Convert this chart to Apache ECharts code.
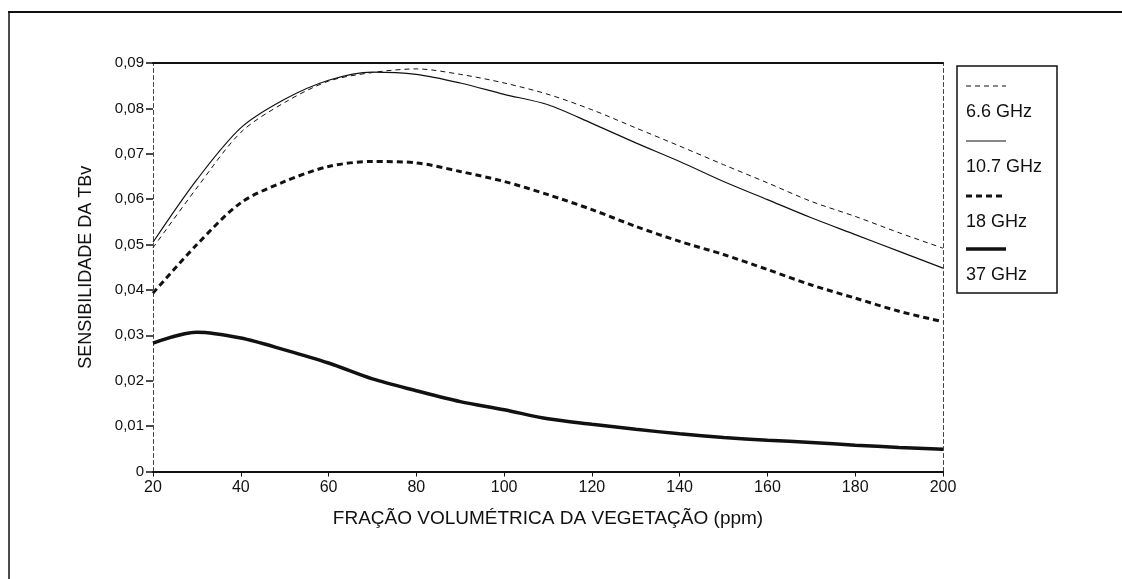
<!DOCTYPE html>
<html>
<head>
<meta charset="utf-8">
<script src="https://cdn.jsdelivr.net/npm/echarts@6/dist/echarts.min.js"></script>
<style>
html,body{margin:0;padding:0;background:#fff;}
#chart{width:1122px;height:579px;}
</style>
</head>
<body>
<div id="chart"></div>
<script>
const xValues = [20,30,40,50,60,70,80,90,100,110,120,130,140,150,160,170,180,190,200];
const s66 = [0.0493,0.0625,0.0747,0.0813,0.0860,0.0879,0.0887,0.0875,0.0856,0.0831,0.0797,0.0757,0.0717,0.0676,0.0636,0.0595,0.0562,0.0526,0.0492];
const s107 = [0.0505,0.0643,0.0757,0.0820,0.0862,0.0880,0.0875,0.0856,0.0831,0.0808,0.0767,0.0724,0.0683,0.0639,0.0599,0.0559,0.0522,0.0485,0.0448];
const s18 = [0.0393,0.0500,0.0592,0.0639,0.0672,0.0683,0.0680,0.0661,0.0639,0.0610,0.0577,0.0540,0.0507,0.0478,0.0445,0.0411,0.0382,0.0353,0.0330];
const s37 = [0.0283,0.0307,0.0294,0.0268,0.0239,0.0204,0.0178,0.0154,0.0136,0.0116,0.0104,0.0093,0.0083,0.0075,0.0069,0.0064,0.0058,0.0053,0.0049];
const seriesNames = ['6.6 GHz','10.7 GHz','18 GHz','37 GHz'];
const xTitle = 'FRAÇÃO VOLUMÉTRICA DA VEGETAÇÃO (ppm)';
const yTitle = 'SENSIBILIDADE DA TBv';

const pair = arr => xValues.map((x,i)=>[x,arr[i]]);
const FONT = '"Liberation Sans", Arial, sans-serif';
const ink = '#111';

const chart = echarts.init(document.getElementById('chart'), null, {renderer:'canvas'});
const legendX = 966, legendW = 40;
const legendRows = [
  {y:86, name:seriesNames[0], style:{stroke:ink,lineWidth:1,lineDash:[5,4]}},
  {y:141, name:seriesNames[1], style:{stroke:ink,lineWidth:1.2}},
  {y:196, name:seriesNames[2], style:{stroke:ink,lineWidth:3,lineDash:[6,4]}},
  {y:249, name:seriesNames[3], style:{stroke:ink,lineWidth:3.5}}
];
const graphics = [
  {type:'line', shape:{x1:8,y1:12,x2:1122,y2:12}, style:{stroke:ink,lineWidth:2}},
  {type:'line', shape:{x1:9,y1:12,x2:9,y2:579}, style:{stroke:ink,lineWidth:1.5}},
  {type:'rect', shape:{x:957,y:66,width:100,height:227}, style:{fill:'none',stroke:ink,lineWidth:1.5}}
];
legendRows.forEach(r=>{
  graphics.push({type:'line', shape:{x1:legendX,y1:r.y,x2:legendX+legendW,y2:r.y}, style:r.style});
  graphics.push({type:'text', x:legendX, y:r.y+26, style:{text:r.name, font:'18px '+FONT, fill:ink, textVerticalAlign:'middle'}});
});

chart.setOption({
  animation:false,
  backgroundColor:'#fff',
  grid:{left:153, top:63, right:179, bottom:107.5, containLabel:false},
  xAxis:[{
    type:'value', min:20, max:200, interval:20,
    name:xTitle, nameLocation:'middle', nameGap:38,
    nameTextStyle:{fontFamily:FONT, fontSize:19, color:ink},
    axisLine:{show:true, onZero:false, lineStyle:{color:ink,width:2}},
    axisTick:{show:true, length:5, lineStyle:{color:ink,width:1}},
    axisLabel:{fontFamily:FONT, fontSize:16, color:ink, margin:8},
    splitLine:{show:false}
  },{
    type:'value', position:'top', min:20, max:200, interval:20,
    axisLine:{show:true, onZero:false, lineStyle:{color:ink,width:2}},
    axisTick:{show:false}, axisLabel:{show:false}, splitLine:{show:false}
  }],
  yAxis:[{
    type:'value', min:0, max:0.09, interval:0.01,
    name:yTitle, nameLocation:'middle', nameGap:58, nameRotate:90,
    nameTextStyle:{fontFamily:FONT, fontSize:18, color:ink},
    axisLine:{show:true, onZero:false, lineStyle:{color:'#444',width:1,type:[4,3]}},
    axisTick:{show:true, length:7, lineStyle:{color:ink,width:1.5}},
    axisLabel:{fontFamily:FONT, fontSize:15, color:ink, margin:9,
      formatter:v=> v===0 ? '0' : v.toFixed(2).replace('.',',')},
    splitLine:{show:false}
  },{
    type:'value', position:'right', min:0, max:0.09, interval:0.01,
    axisLine:{show:true, onZero:false, lineStyle:{color:'#444',width:1,type:[4,3]}},
    axisTick:{show:false}, axisLabel:{show:false}, splitLine:{show:false}
  }],
  series:[
    {name:seriesNames[0], type:'line', data:pair(s66), smooth:0.3, showSymbol:false,
      lineStyle:{color:ink,width:1,type:[5,4]}},
    {name:seriesNames[1], type:'line', data:pair(s107), smooth:0.3, showSymbol:false,
      lineStyle:{color:ink,width:1.2}},
    {name:seriesNames[2], type:'line', data:pair(s18), smooth:0.3, showSymbol:false,
      lineStyle:{color:ink,width:3,type:[6,4]}},
    {name:seriesNames[3], type:'line', data:pair(s37), smooth:0.3, showSymbol:false,
      lineStyle:{color:ink,width:3.5}}
  ],
  graphic:graphics
});
</script>
</body>
</html>
